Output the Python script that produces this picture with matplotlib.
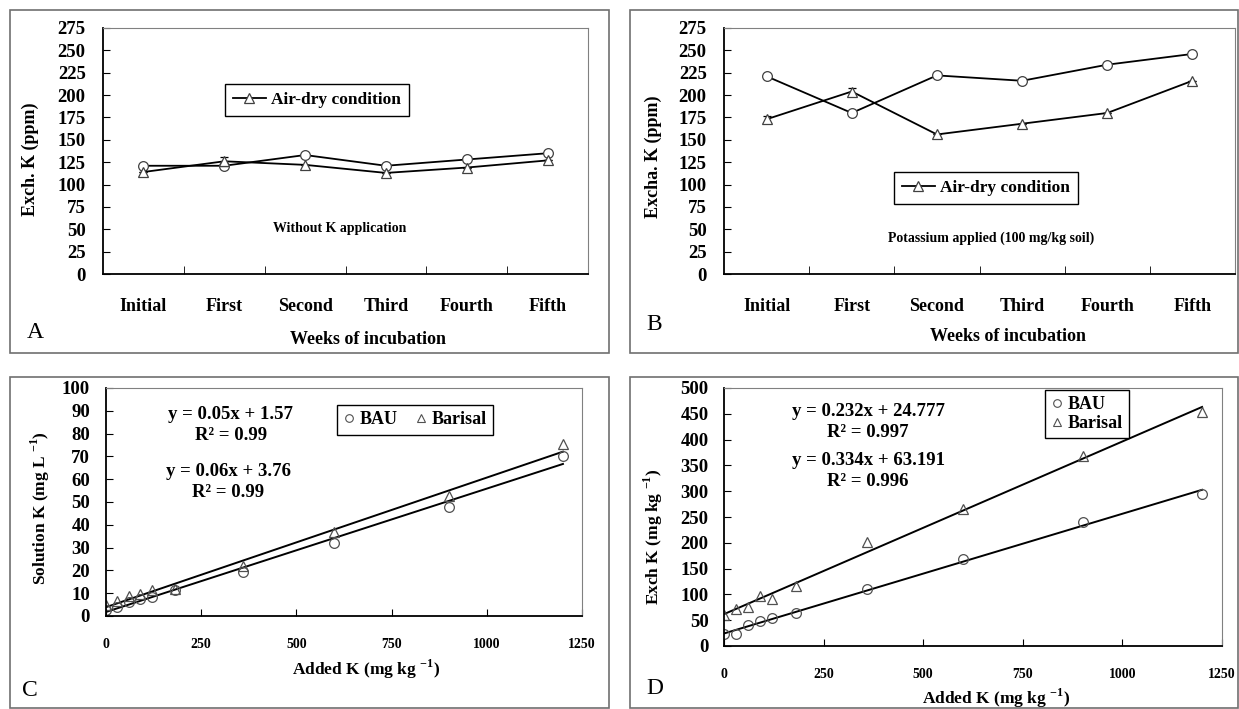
import numpy as np
import matplotlib
matplotlib.use('Agg')
import matplotlib.pyplot as plt
from matplotlib.patches import Rectangle
from matplotlib.lines import Line2D

plt.rcParams['font.family'] = ['Liberation Serif', 'DejaVu Serif']
plt.rcParams['font.weight'] = 'bold'
plt.rcParams['mathtext.fontset'] = 'custom'
plt.rcParams['mathtext.rm'] = 'Liberation Serif:bold'

# ---- data ----
weeks = ['Initial', 'First', 'Second', 'Third', 'Fourth', 'Fifth']

# panel A : without K application
a_circle = [121, 121, 133, 121, 128, 135]
a_triangle = [114, 126, 122, 113, 119, 127]
a_triangle_err = [0, 5, 0, 0, 0, 0]

# panel B : potassium applied (100 mg/kg soil)
b_circle = [221, 180, 222, 216, 234, 246]
b_triangle = [173, 204, 156, 168, 180, 216]
b_triangle_err = [4, 4, 0, 0, 0, 0]

added_k = [0, 30, 60, 90, 120, 180, 360, 600, 900, 1200]

# panel C : solution K
c_bau = [2.5, 4, 6, 7.6, 8.3, 11.3, 19.3, 32.2, 47.9, 70.1]
c_barisal = [5, 6.6, 8.6, 9.8, 11.3, 12, 21.8, 36.9, 52.6, 75.3]
c_eq = ['y = 0.05x + 1.57\nR² = 0.99', 'y = 0.06x + 3.76\nR² = 0.99']

# panel D : exchangeable K
d_bau = [23, 23, 40, 48, 54, 63, 110, 168, 241, 294]
d_barisal = [60, 71, 76, 97, 92, 117, 201, 266, 369, 453]
d_eq = ['y = 0.232x + 24.777\nR² = 0.997', 'y = 0.334x + 63.191\nR² = 0.996']

W, H = 1239, 709
fig = plt.figure(figsize=(W / 100, H / 100), dpi=100)


def fx(x):
    return x / W


def fy(y):
    return 1 - y / H


def add_ax(x0, y0, x1, y1):
    """axes from pixel box (left, top, right, bottom)"""
    ax = fig.add_axes([fx(x0), fy(y1), (x1 - x0) / W, (y1 - y0) / H])
    ax.spines['top'].set_color('#808080')
    ax.spines['right'].set_color('#808080')
    ax.spines['left'].set_linewidth(1.3)
    ax.spines['bottom'].set_linewidth(1.3)
    return ax


def panel_box(x0, y0, x1, y1):
    fig.patches.append(Rectangle((fx(x0), fy(y1)), (x1 - x0) / W, (y1 - y0) / H,
                                 transform=fig.transFigure, fill=False,
                                 edgecolor='#707070', linewidth=1.2))


panel_box(10, 10, 609, 353)
panel_box(630, 10, 1238, 353)
panel_box(10, 377, 609, 708)
panel_box(630, 377, 1238, 708)

line_kw = dict(color='black', linewidth=1.3, markersize=7,
               markerfacecolor='white', markeredgecolor='#404040', markeredgewidth=0.9)


def week_plot(ax, circ, tri, tri_err, legend_xy, note, note_xy, ylabel, ylabel_xy,
              xlabel_xy, letter, letter_xy):
    x = np.arange(len(weeks))
    ax.plot(x, circ, marker='o', **line_kw)
    ax.errorbar(x, tri, yerr=tri_err, marker='^', capsize=3, ecolor='black',
                elinewidth=1.0, **line_kw)
    ax.set_xlim(-0.5, len(weeks) - 0.5)
    ax.set_ylim(0, 275)
    ax.set_yticks(range(0, 276, 25))
    ax.tick_params(axis='y', direction='in', length=5, pad=12.5, labelsize=13.5)
    ax.set_xticks(x)
    ax.set_xticklabels(weeks)
    ax.tick_params(axis='x', which='major', length=0, pad=17, labelsize=13)
    ax.set_xticks(np.arange(0.5, len(weeks) - 1, 1), minor=True)
    ax.tick_params(axis='x', which='minor', direction='in', length=6)
    for lbl in ax.get_xticklabels() + ax.get_yticklabels():
        lbl.set_fontweight('bold')

    h = Line2D([], [], marker='^', **line_kw)
    ax.legend([h], ['Air-dry condition'], loc='center', bbox_to_anchor=(fx(legend_xy[0]), fy(legend_xy[1])),
              bbox_transform=fig.transFigure, fancybox=False, edgecolor='black',
              framealpha=1, handlelength=1.9, handletextpad=0.3, borderpad=0.45,
              prop={'weight': 'bold', 'size': 12.5})
    fig.text(fx(note_xy[0]), fy(note_xy[1]), note, ha='center', va='center',
             fontsize=10, fontweight='bold')
    fig.text(fx(ylabel_xy[0]), fy(ylabel_xy[1]), ylabel, ha='center', va='center',
             rotation=90, fontsize=13, fontweight='bold')
    fig.text(fx(xlabel_xy[0]), fy(xlabel_xy[1]), 'Weeks of incubation', ha='center',
             va='center', fontsize=13, fontweight='bold')
    fig.text(fx(letter_xy[0]), fy(letter_xy[1]), letter, ha='center', va='center',
             fontsize=17, fontweight='normal')


# ---- A ----
axA = add_ax(103, 28, 588, 274)
week_plot(axA, a_circle, a_triangle, a_triangle_err, (317, 100),
          'Without K application', (340, 229), 'Exch. K (ppm)', (30, 159),
          (368, 340), 'A', (35, 333))

# ---- B ----
axB = add_ax(724, 28, 1235, 274)
week_plot(axB, b_circle, b_triangle, b_triangle_err, (986, 188),
          'Potassium applied (100 mg/kg soil)', (991, 238), 'Excha. K (ppm)', (653, 157),
          (1008, 337), 'B', (654, 325))

sc_kw = dict(linestyle='none', markersize=7, markerfacecolor='none',
             markeredgecolor='#505050', markeredgewidth=0.9)


def added_plot(ax, bau, barisal, ymax, ystep, eqs, eq_xy, legend_xy, ncol,
               ylabel, ylabel_xy, xlabel_xy, letter, letter_xy, ypad):
    xs = np.array(added_k)
    for ys in (bau, barisal):
        k, b = np.polyfit(xs, ys, 1)
        ax.plot([0, 1200], [b, k * 1200 + b], color='black', linewidth=1.4)
    ax.plot(xs, bau, marker='o', **sc_kw)
    ax.plot(xs, barisal, marker='^', **sc_kw)
    ax.set_xlim(0, 1250)
    ax.set_ylim(0, ymax)
    ax.set_xticks(range(0, 1251, 250))
    ax.set_yticks(range(0, ymax + 1, ystep))
    ax.tick_params(axis='y', direction='in', length=5, pad=ypad, labelsize=13.5)
    ax.tick_params(axis='x', direction='in', length=5, pad=16, labelsize=10)
    for lbl in ax.get_xticklabels() + ax.get_yticklabels():
        lbl.set_fontweight('bold')

    h1 = Line2D([], [], marker='o', linestyle='none', markersize=5.5, markerfacecolor='none',
                markeredgecolor='#505050', markeredgewidth=0.8)
    h2 = Line2D([], [], marker='^', linestyle='none', markersize=5.5, markerfacecolor='none',
                markeredgecolor='#505050', markeredgewidth=0.8)
    ax.legend([h1, h2], ['BAU', 'Barisal'], ncol=ncol, loc='center',
              bbox_to_anchor=(fx(legend_xy[0]), fy(legend_xy[1])), bbox_transform=fig.transFigure,
              fancybox=False, edgecolor='black', framealpha=1, handlelength=0.6,
              handletextpad=0.3, columnspacing=1.0, borderpad=0.35, labelspacing=0.1,
              prop={'weight': 'bold', 'size': 13})
    for txt, (ex, ey) in zip(eqs, eq_xy):
        fig.text(fx(ex), fy(ey), txt, ha='center', va='center', fontsize=13.5,
                 fontweight='bold', linespacing=1.3)
    fig.text(fx(ylabel_xy[0]), fy(ylabel_xy[1]), ylabel, ha='center', va='center',
             rotation=90, fontsize=12.5, fontweight='bold')
    fig.text(fx(xlabel_xy[0]), fy(xlabel_xy[1]), 'Added K (mg kg $^{-1}$)', ha='center',
             va='center', fontsize=12.5, fontweight='bold')
    fig.text(fx(letter_xy[0]), fy(letter_xy[1]), letter, ha='center', va='center',
             fontsize=17, fontweight='normal')


# ---- C ----
axC = add_ax(106, 388, 582, 616)
added_plot(axC, c_bau, c_barisal, 100, 10, c_eq, [(231, 425), (228, 482)], (415, 420), 2,
           'Solution K (mg L $^{-1}$)', (40, 508), (366, 669), 'C', (30, 690), 11.5)

# ---- D ----
axD = add_ax(724, 388, 1222, 646)
added_plot(axD, d_bau, d_barisal, 500, 50, d_eq, [(868, 422), (868, 471)], (1087, 414), 1,
           'Exch K (mg kg $^{-1}$)', (653, 537), (996, 698), 'D', (655, 688), 11)

fig.savefig('out.png', dpi=100)
